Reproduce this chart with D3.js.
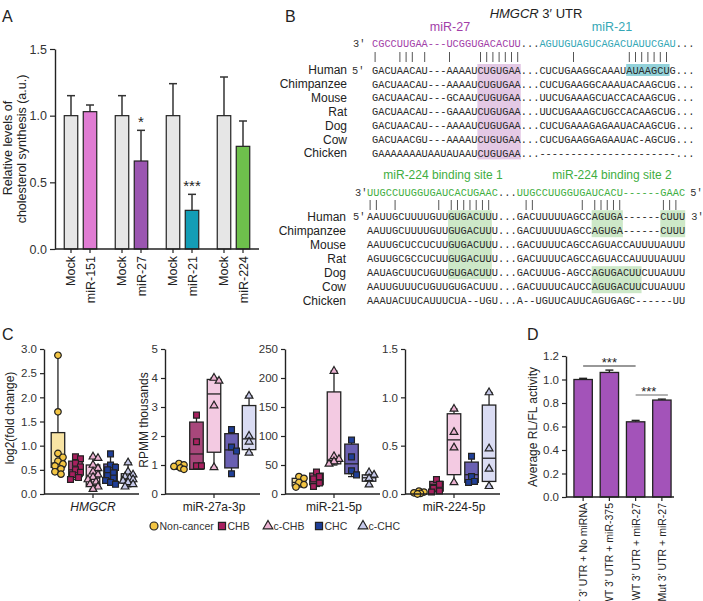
<!DOCTYPE html>
<html><head><meta charset="utf-8">
<script src="https://cdn.jsdelivr.net/npm/d3@7"></script>
<style>
body{margin:0;background:#fff}
svg{display:block}
text{font-family:"Liberation Sans",Arial,sans-serif}
.mono{font-family:"Liberation Mono","Courier New",monospace}
</style>
</head><body>
<svg id="c" width="703" height="601" fill="#222"></svg>
<script>
// ================= DATA =================
// Panel A
const aLabels = ["Mock","miR-151","Mock","miR-27","Mock","miR-21","Mock","miR-224"];
const aValues = [1.0, 1.03, 1.0, 0.66, 1.0, 0.29, 1.0, 0.77];
const aErrors = [0.15, 0.05, 0.15, 0.23, 0.24, 0.12, 0.29, 0.19];
const aStars  = ["", "", "", "*", "", "***", "", ""];
const aTicks  = [0, 0.5, 1.0, 1.5];

// Panel B
const species = ["Human","Chimpanzee","Mouse","Rat","Dog","Cow","Chicken"];
const mir27Seq = "CGCCUUGAA---UCGGUGACACUU";
const mir21Seq = "AGUUGUAGUCAGACUAUUCGAU";
const utrSite27 = ["GACUAACAU---AAAAUCUGUGAA","GACUAACAU---AAAAUCUGUGAA","GACUAACAU---GCAAUCUGUGAA","GACUAACAU---GAAAUCUGUGAA","GACUAACAU---AAAAUCUGUGAA","GACUAACGU---AAAAUCUGUGAA","GAAAAAAAUAAUAUAAUCUGUGAA"];
const utrSite21 = ["CUCUGAAGGCAAAUAUAAGCUG","CUCUGAAGGCAAAUACAAGCUG","UUCUGAAAGCUACCACAAGCUG","UUCUGAAAGCUGCCACAAGCUG","CUCUGAAAGAGAAUACAAGCUG","CUCUGAAGGAGAAUAC-AGCUG","----------------------"];
const pairsTop = [0,4,5,6,8,12,17,18,19,20,21,22,23,32,41,42,43,44,45,46,47];
const hlTop = [{from:17,to:24,r0:0,r1:6,kind:"p"},{from:41,to:48,r0:0,r1:0,kind:"t"}];

const mir224Site1 = "UUGCCUUGGUGAUCACUGAAC";
const mir224Site2 = "UUGCCUUGGUGAUCACU------GAAC";
const utr224s1 = ["AAUUGCUUUUGUUGUGACUUU","AAUUGCUUUUGUUGUGACUUU","AAUUGCUCCUCUUGUGACUUU","AGUUGCGCCUCUUGUGACUUU","AAUAGCUUCUGUUGUGACUUU","AAUUGUUUCUGUUGUGACUUU","AAAUACUUCAUUUCUA--UGU"];
const utr224s2 = ["GACUUUUUAGCCAGUGA------CUUU","GACUUUUUAGCCAGUGA------CUUU","GACUUUUCAGCCAGUACCAUUUUAUUU","GACUUUUCAGCCAGUACCAUUUUAUUU","GACUUUG-AGCCAGUGACUUCUUAUUU","GACUUUUCAUCCAGUGACUUCUUAUUU","A--UGUUCAUUCAGUGAGC------UU"];
const pairsBottom = [0,1,4,11,13,14,15,16,17,18,19,25,26,34,36,37,38,39,40,47,48,49];
const hlBottom = [{from:13,to:20,r0:0,r1:4},{from:36,to:41,r0:0,r1:1},{from:47,to:51,r0:0,r1:1},{from:36,to:44,r0:4,r1:5}];

// Panel C
const cGroups = ["Non-cancer","CHB","c-CHB","CHC","c-CHC"];
const cGenes  = ["HMGCR","miR-27a-3p","miR-21-5p","miR-224-5p"];
const cTicks  = [[0,0.5,1.0,1.5,2.0,2.5,3.0],[0,1,2,3,4,5],[0,50,100,150,200,250],[0,0.5,1.0,1.5]];
const cMax    = [3.0, 5, 250, 1.5];
const hmgcrPoints = [
  [2.87,1.70,0.84,0.76,0.68,0.62,0.58,0.52,0.46,0.41],
  [0.77,0.73,0.64,0.56,0.50,0.45,0.40,0.34,0.30],
  [0.77,0.74,0.60,0.53,0.46,0.40,0.35,0.30,0.25,0.20,0.15,0.10],
  [0.83,0.60,0.55,0.50,0.44,0.38,0.33,0.28,0.24,0.20],
  [0.65,0.46,0.40,0.36,0.33,0.30,0.27,0.24,0.20,0.15]];
const hmgcrBoxes = [[0.41,0.55,0.64,1.27,2.87],[0.30,0.36,0.50,0.68,0.77],[0.10,0.18,0.33,0.60,0.77],[0.20,0.22,0.45,0.62,0.83],[0.15,0.22,0.30,0.42,0.65]];
const mir27Points = [[1.05,1.00,0.95,0.90,0.85],[2.72,1.80,0.97,0.97],[4.00,3.90,3.05,0.92],[2.22,1.62,1.48,0.70],[3.38,2.00,1.80,1.42]];
const mir27Boxes  = [[0.85,0.88,0.95,1.00,1.05],[0.85,0.85,1.38,2.48,2.72],[0.92,1.44,3.45,3.95,4.00],[0.69,0.90,1.52,2.08,2.22],[1.42,1.53,1.90,3.05,3.38]];
const mir21Points = [[30,27,20,16,12],[38,30,26,19,13],[212,65,60,56,52],[93,64,40,33],[37,33,27,16]];
const mir21Boxes  = [[12,14,20,27,30],[13,16,27,36,38],[50,52,58,176,212],[30,35,52,86,93],[15,22,28,33,37]];
const mir224Points = [[0.03,0.02,0.012,0.006,0.0],[0.15,0.10,0.06,0.03,0.02],[0.88,0.64,0.48,0.12],[0.39,0.18,0.13,0.12],[1.05,0.47,0.26,0.08]];
const mir224Boxes  = [[0.0,0.003,0.012,0.02,0.03],[0.02,0.03,0.10,0.13,0.15],[0.11,0.20,0.56,0.83,0.88],[0.11,0.12,0.20,0.33,0.39],[0.08,0.13,0.37,0.92,1.05]];

// Panel D
const dLabels = ["WT 3' UTR + No miRNA","WT 3' UTR + miR-375","WT 3' UTR + miR-27","Mut 3' UTR + miR-27"];
const dValues = [1.0, 1.06, 0.64, 0.825];
const dErrors = [0.01, 0.02, 0.012, 0.008];
const dTicks  = [0,0.2,0.4,0.6,0.8,1.0,1.2];

// ================= STYLE =================
const aColors = ["#e6e6e6","#e07cd3","#e6e6e6","#9b56b1","#e6e6e6","#139db6","#e6e6e6","#6ec04c"];
const cPointFill = ["#f3c543","#a8205f","#ecb2d2","#1f3f98","#c6c9ea"];
const cBoxFill   = ["#f8e4a4","#a8477b","#f3cae2","#6a60b2","#dadcf3"];
const cShapes    = [d3.symbolCircle, d3.symbolSquare, d3.symbolTriangle, d3.symbolSquare, d3.symbolTriangle];
const cShapeSize = [34, 34, 26, 34, 26];
const purple = "#a23ea8", teal = "#35a7b6", green = "#3fae3f";

const svg = d3.select("#c");

// panel letters
[["A",2,22],["B",285,22],["C",2,340],["D",527,340]].forEach(([t,x,y])=>{
  svg.append("text").attr("x",x).attr("y",y).attr("font-size",16).text(t);
});

function styleAxis(g, fs){
  g.selectAll(".domain").attr("stroke","#222").attr("stroke-width",1.4);
  g.selectAll(".tick line").attr("stroke","#222").attr("stroke-width",1.2);
  g.selectAll(".tick text").attr("font-size",fs).attr("fill","#333").style("font-family",'"Liberation Sans",Arial,sans-serif');
}

// ================= PANEL A =================
(function(){
  const y = d3.scaleLinear().domain([0,1.5]).range([249,49]);
  const xo = d3.scaleBand().domain(d3.range(4)).range([55,259]);
  const xi = d3.scaleBand().domain([0,1]).range([0,xo.bandwidth()]).paddingInner(0.29).paddingOuter(0.487);
  const bx = i => xo(Math.floor(i/2)) + xi(i%2);
  const bw = xi.bandwidth();
  const g = svg.append("g");
  aValues.forEach((v,i)=>{
    const cx = bx(i)+bw/2;
    g.append("line").attr("x1",cx).attr("x2",cx).attr("y1",y(v)).attr("y2",y(v+aErrors[i])).attr("stroke","#333").attr("stroke-width",1.5);
    g.append("line").attr("x1",cx-4).attr("x2",cx+4).attr("y1",y(v+aErrors[i])).attr("y2",y(v+aErrors[i])).attr("stroke","#333").attr("stroke-width",1.5);
  });
  g.selectAll("rect.a").data(aValues).join("rect")
    .attr("x",(d,i)=>bx(i)).attr("width",bw)
    .attr("y",d=>y(d)).attr("height",d=>y(0)-y(d))
    .attr("fill",(d,i)=>aColors[i]).attr("stroke","#222").attr("stroke-width",1.2);
  aStars.forEach((s,i)=>{
    if(!s) return;
    g.append("text").attr("x",bx(i)+bw/2).attr("y",y(aValues[i]+aErrors[i])-3)
      .attr("text-anchor","middle").attr("font-size",15).text(s);
  });
  const ya = g.append("g").attr("transform","translate(55,0)")
    .call(d3.axisLeft(y).tickValues(aTicks).tickFormat(d3.format(".1f")).tickSize(5).tickSizeOuter(0));
  styleAxis(ya, 12.5);
  g.append("line").attr("x1",55).attr("x2",259).attr("y1",249).attr("y2",249).attr("stroke","#222").attr("stroke-width",1.4);
  aLabels.forEach((l,i)=>{
    const cx = bx(i)+bw/2;
    g.append("line").attr("x1",cx).attr("x2",cx).attr("y1",249).attr("y2",253).attr("stroke","#222").attr("stroke-width",1.2);
    g.append("text").attr("transform",`translate(${cx+4.5},256) rotate(-90)`).attr("text-anchor","end")
      .attr("font-size",12.5).text(l);
  });
  g.append("text").attr("transform","translate(12,148) rotate(-90)").attr("text-anchor","middle").attr("font-size",12.5).text("Relative levels of");
  g.append("text").attr("transform","translate(26,149) rotate(-90)").attr("text-anchor","middle").attr("font-size",12.5).text("cholesterol synthesis (a.u.)");
})();

// ================= PANEL B =================
(function(){
  const g = svg.append("g");
  const fs = 10.3;
  function seqText(x0, cw, y, str, color){
    g.append("text").attr("class","mono").attr("x",x0).attr("y",y)
      .attr("font-size",fs).attr("textLength",str.length*cw).attr("lengthAdjust","spacing")
      .attr("fill",color||"#2a2a2a").text(str);
  }
  // ---- top block ----
  const x0 = 372, cw = 6.2, yH = 70, dy = 13.9;
  const rowC = i => yH + i*dy;
  hlTop.forEach(h=>{
    g.append("rect").attr("x",x0+h.from*cw).attr("width",(h.to-h.from)*cw)
      .attr("y",rowC(h.r0)-6).attr("height",rowC(h.r1)-rowC(h.r0)+12)
      .attr("fill",h.kind==="p"?"#e4c9e5":"#93d2da");
  });
  const tt = g.append("text").attr("x",536).attr("y",18).attr("text-anchor","middle").attr("font-size",13);
  tt.append("tspan").attr("font-style","italic").text("HMGCR");
  tt.append("tspan").text(" 3′ UTR");
  g.append("text").attr("x",450).attr("y",31).attr("text-anchor","middle").attr("font-size",12.5).attr("fill",purple).text("miR-27");
  g.append("text").attr("x",612).attr("y",31).attr("text-anchor","middle").attr("font-size",12.5).attr("fill",teal).text("miR-21");
  const y3 = 43.3;
  g.append("text").attr("class","mono").attr("x",353).attr("y",y3+3.6).attr("font-size",fs).attr("fill","#333").text("3′");
  seqText(x0, cw, y3+3.6, mir27Seq, purple);
  seqText(x0+mir27Seq.length*cw, cw, y3+3.6, "...", "#333");
  seqText(x0+(mir27Seq.length+3)*cw, cw, y3+3.6, mir21Seq, teal);
  seqText(x0+(mir27Seq.length+3+mir21Seq.length)*cw, cw, y3+3.6, "...", "#333");
  g.selectAll("line.pt").data(pairsTop).join("line")
    .attr("x1",d=>x0+(d+0.5)*cw).attr("x2",d=>x0+(d+0.5)*cw).attr("y1",52).attr("y2",62)
    .attr("stroke","#555").attr("stroke-width",1);
  species.forEach((s,i)=>{
    g.append("text").attr("x",347).attr("y",rowC(i)+4).attr("text-anchor","end").attr("font-size",12).text(s);
    seqText(x0, cw, rowC(i)+3.6, utrSite27[i]+"..."+utrSite21[i]+"...");
  });
  g.append("text").attr("class","mono").attr("x",352).attr("y",rowC(0)+3.6).attr("font-size",fs).attr("fill","#333").text("5′");

  // ---- bottom block ----
  const x1 = 367, cw2 = 6.24, yH2 = 216.7, dy2 = 14;
  const rowC2 = i => yH2 + i*dy2;
  hlBottom.forEach(h=>{
    g.append("rect").attr("x",x1+h.from*cw2).attr("width",(h.to-h.from)*cw2)
      .attr("y",rowC2(h.r0)-6.5).attr("height",rowC2(h.r1)-rowC2(h.r0)+13)
      .attr("fill","#cde8c8");
  });
  g.append("text").attr("x",443).attr("y",179).attr("text-anchor","middle").attr("font-size",12).attr("fill",green).text("miR-224 binding site 1");
  g.append("text").attr("x",612).attr("y",179).attr("text-anchor","middle").attr("font-size",12).attr("fill",green).text("miR-224 binding site 2");
  const y3b = 192.3;
  g.append("text").attr("class","mono").attr("x",355).attr("y",y3b+3.6).attr("font-size",fs).attr("fill","#333").text("3′");
  seqText(x1, cw2, y3b+3.6, mir224Site1, green);
  seqText(x1+mir224Site1.length*cw2, cw2, y3b+3.6, "...", "#333");
  seqText(x1+(mir224Site1.length+3)*cw2, cw2, y3b+3.6, mir224Site2, green);
  g.append("text").attr("class","mono").attr("x",x1+(mir224Site1.length+3+mir224Site2.length)*cw2+5).attr("y",y3b+3.6).attr("font-size",fs).attr("fill","#333").text("5′");
  g.selectAll("line.pb").data(pairsBottom).join("line")
    .attr("x1",d=>x1+(d+0.5)*cw2).attr("x2",d=>x1+(d+0.5)*cw2).attr("y1",200).attr("y2",210)
    .attr("stroke","#555").attr("stroke-width",1);
  species.forEach((s,i)=>{
    g.append("text").attr("x",346).attr("y",rowC2(i)+4).attr("text-anchor","end").attr("font-size",12).text(s);
    seqText(x1, cw2, rowC2(i)+3.6, utr224s1[i]+"..."+utr224s2[i]);
  });
  g.append("text").attr("class","mono").attr("x",353).attr("y",rowC2(0)+3.6).attr("font-size",fs).attr("fill","#333").text("5′");
  g.append("text").attr("class","mono").attr("x",x1+(mir224Site1.length+3+mir224Site2.length)*cw2+6).attr("y",rowC2(0)+3.6).attr("font-size",fs).attr("fill","#333").text("3′");
})();

// ================= PANEL C =================
(function(){
  const allPoints = [hmgcrPoints, mir27Points, mir21Points, mir224Points];
  const allBoxes  = [hmgcrBoxes, mir27Boxes, mir21Boxes, mir224Boxes];
  const axX = [44, 165, 285, 405];
  const fmts = [d3.format(".1f"), d3.format("d"), d3.format("d"), d3.format(".1f")];
  const W = 95, boxW = 13.5;
  function swarm(vals, y, cx, size){
    const placed = [];
    vals.map((v,i)=>({v,i})).sort((a,b)=>b.v-a.v).forEach(o=>{
      const py = y(o.v);
      const offs = [0, 3, -3, 5, -5, 1.5, -1.5, 4, -4];
      let px = cx, best = -1;
      for(const off of offs){
        const dmin = d3.min(placed, p=>Math.hypot(p.x-(cx+off), p.y-py));
        if(dmin===undefined || dmin >= size*0.8){ px = cx+off; best = 1; break; }
        if(dmin > best){ best = dmin; px = cx+off; }
      }
      placed.push({x:px, y:py});
    });
    return placed;
  }
  cGenes.forEach((gene,k)=>{
    const g = svg.append("g");
    const y = d3.scaleLinear().domain([0,cMax[k]]).range([494,349]);
    const x = d3.scaleBand().domain(cGroups).range([axX[k]+3, axX[k]+W]).padding(0.25);
    const boxes = allBoxes[k], pts = allPoints[k];
    cGroups.forEach((grp,j)=>{
      const cx = x(grp)+x.bandwidth()/2;
      const [mn,q1,md,q3,mx] = boxes[j];
      g.append("line").attr("x1",cx).attr("x2",cx).attr("y1",y(mn)).attr("y2",y(mx)).attr("stroke","#222").attr("stroke-width",1.3);
      [mn,mx].forEach(v=>g.append("line").attr("x1",cx-3.5).attr("x2",cx+3.5).attr("y1",y(v)).attr("y2",y(v)).attr("stroke","#222").attr("stroke-width",1.3));
      g.append("rect").attr("x",cx-boxW/2).attr("width",boxW).attr("y",y(q3)).attr("height",Math.max(0.5,y(q1)-y(q3)))
        .attr("fill",cBoxFill[j]).attr("stroke","#222").attr("stroke-width",1.3);
      g.append("line").attr("x1",cx-boxW/2).attr("x2",cx+boxW/2).attr("y1",y(md)).attr("y2",y(md)).attr("stroke","#222").attr("stroke-width",1.3);
      const sym = d3.symbol().type(cShapes[j]).size(cShapeSize[j]);
      const placed = swarm(pts[j], y, cx, 6.5);
      g.selectAll(null).data(placed).join("path")
        .attr("transform",d=>`translate(${d.x},${d.y})`).attr("d",sym)
        .attr("fill",cPointFill[j]).attr("stroke","#222").attr("stroke-width",1.2);
    });
    const ya = g.append("g").attr("transform",`translate(${axX[k]},0)`)
      .call(d3.axisLeft(y).tickValues(cTicks[k]).tickFormat(fmts[k]).tickSize(4).tickSizeOuter(0));
    styleAxis(ya, 11.5);
    g.append("line").attr("x1",axX[k]).attr("x2",axX[k]+W).attr("y1",494).attr("y2",494).attr("stroke","#222").attr("stroke-width",1.4);
    const mid = x(cGroups[2])+x.bandwidth()/2;
    g.append("line").attr("x1",mid).attr("x2",mid).attr("y1",494).attr("y2",498).attr("stroke","#222").attr("stroke-width",1.2);
    g.append("text").attr("x",mid).attr("y",511).attr("text-anchor","middle").attr("font-size",12)
      .attr("font-style",k===0?"italic":"normal").text(gene);
  });
  svg.append("text").attr("transform","translate(14,418) rotate(-90)").attr("text-anchor","middle").attr("font-size",12).text("log2(fold change)");
  svg.append("text").attr("transform","translate(148,420) rotate(-90)").attr("text-anchor","middle").attr("font-size",12).text("RPMM thousands");
  // legend
  const lx = [154, 222, 268, 319, 363];
  cGroups.forEach((grp,j)=>{
    svg.append("path").attr("transform",`translate(${lx[j]},526)`).attr("d",d3.symbol().type(cShapes[j]).size(j%2===0 && j>0 ? 40 : 50)())
      .attr("fill",cPointFill[j]).attr("stroke","#222").attr("stroke-width",1.2);
    svg.append("text").attr("x",lx[j]+5.5).attr("y",530).attr("font-size",10.5).attr("fill","#333").text(grp);
  });
})();

// ================= PANEL D =================
(function(){
  const g = svg.append("g");
  const y = d3.scaleLinear().domain([0,1.2]).range([497,356]);
  const x = d3.scaleBand().domain(dLabels).range([570,675]).paddingInner(0.3).paddingOuter(0.15);
  const bw = x.bandwidth();
  dValues.forEach((v,i)=>{
    const cx = x(dLabels[i])+bw/2;
    g.append("line").attr("x1",cx).attr("x2",cx).attr("y1",y(v)).attr("y2",y(v+dErrors[i])).attr("stroke","#222").attr("stroke-width",1.4);
    g.append("line").attr("x1",cx-4).attr("x2",cx+4).attr("y1",y(v+dErrors[i])).attr("y2",y(v+dErrors[i])).attr("stroke","#222").attr("stroke-width",1.4);
  });
  g.selectAll("rect.d").data(dValues).join("rect")
    .attr("x",(d,i)=>x(dLabels[i])).attr("width",bw)
    .attr("y",d=>y(d)).attr("height",d=>y(0)-y(d))
    .attr("fill","#a353b9").attr("stroke","#222").attr("stroke-width",1.3);
  const ya = g.append("g").attr("transform","translate(566,0)")
    .call(d3.axisLeft(y).tickValues(dTicks).tickFormat(d3.format(".1f")).tickSize(4).tickSizeOuter(0));
  styleAxis(ya, 11.5);
  g.append("line").attr("x1",566).attr("x2",674).attr("y1",497).attr("y2",497).attr("stroke","#222").attr("stroke-width",1.4);
  dLabels.forEach((l,i)=>{
    const cx = x(l)+bw/2;
    g.append("line").attr("x1",cx).attr("x2",cx).attr("y1",497).attr("y2",501).attr("stroke","#222").attr("stroke-width",1.2);
    g.append("text").attr("transform",`translate(${cx+4},503) rotate(-90)`).attr("text-anchor","end").attr("font-size",10.5).text(l);
  });
  const c = i => x(dLabels[i])+bw/2;
  g.append("line").attr("x1",c(0)).attr("x2",c(2)).attr("y1",y(1.115)).attr("y2",y(1.115)).attr("stroke","#333").attr("stroke-width",1.1);
  g.append("text").attr("x",(c(0)+c(2))/2).attr("y",y(1.115)+1).attr("text-anchor","middle").attr("font-size",13).text("***");
  g.append("line").attr("x1",c(2)).attr("x2",c(3)+6).attr("y1",y(0.868)).attr("y2",y(0.868)).attr("stroke","#999").attr("stroke-width",1.6);
  g.append("text").attr("x",(c(2)+c(3))/2).attr("y",y(0.868)+1).attr("text-anchor","middle").attr("font-size",13).text("***");
  g.append("text").attr("transform","translate(537,427) rotate(-90)").attr("text-anchor","middle").attr("font-size",12).text("Average RL/FL activity");
})();
</script>
</body></html>
